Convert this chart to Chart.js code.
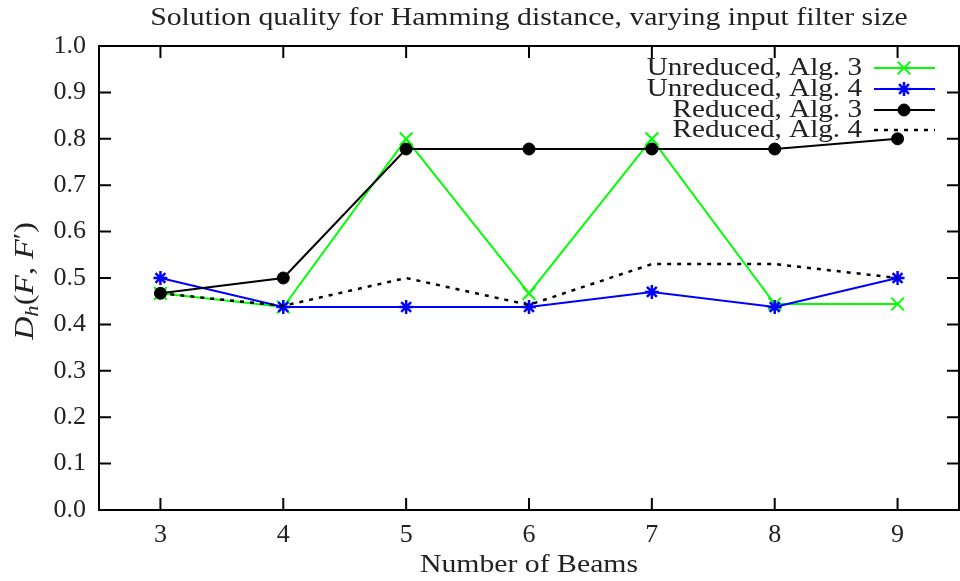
<!DOCTYPE html>
<html>
<head>
<meta charset="utf-8">
<script src="https://cdn.jsdelivr.net/npm/chart.js@4.4.1/dist/chart.umd.min.js"></script>
<style>
  html, body { margin: 0; padding: 0; background: #fff; overflow: hidden; }
  #wrap { width: 960px; height: 581px; }
  canvas { display: block; }
</style>
</head>
<body>
<div id="wrap"><canvas id="quality"></canvas></div>
<script>
// number of beams on the x axis
const beams = ['3', '4', '5', '6', '7', '8', '9'];

// D_h(F, F') per beam count
const unreducedAlg3 = [0.467, 0.4375, 0.8, 0.467, 0.8, 0.444, 0.444];
const unreducedAlg4 = [0.5, 0.4375, 0.4375, 0.4375, 0.47, 0.4375, 0.5];
const reducedAlg3 = [0.467, 0.5, 0.778, 0.778, 0.778, 0.778, 0.8];
const reducedAlg4 = [0.467, 0.44, 0.5, 0.442, 0.53, 0.53, 0.5];

const seriesNames = ['Unreduced, Alg. 3', 'Unreduced, Alg. 4', 'Reduced, Alg. 3', 'Reduced, Alg. 4'];

const FONT = '"Liberation Serif", "DejaVu Serif", serif';
const TEXT = '#222';
const WIDE = 1.19; // the serif face runs narrower than the TeX one, so widen words a bit

// text stretched horizontally around its anchor
function wideText(ctx, str, x, y, align) {
  ctx.save();
  ctx.translate(x, y);
  ctx.scale(WIDE, 1);
  ctx.textAlign = align;
  ctx.fillText(str, 0, 0);
  ctx.restore();
}

// frame, inward ticks, title, axis labels and key, gnuplot style
const gnuplotFrame = {
  id: 'gnuplotFrame',
  afterDatasetsDraw(chart) {
    const { ctx, chartArea: a, scales } = chart;
    const x = scales.x, y = scales.y;
    ctx.save();
    ctx.strokeStyle = '#000';
    ctx.lineWidth = 2;
    ctx.setLineDash([]);
    ctx.strokeRect(a.left, a.top, a.right - a.left, a.bottom - a.top);

    const tl = 12;
    ctx.beginPath();
    x.ticks.forEach((t, i) => {
      const px = x.getPixelForTick(i);
      ctx.moveTo(px, a.bottom); ctx.lineTo(px, a.bottom - tl);
      ctx.moveTo(px, a.top); ctx.lineTo(px, a.top + tl);
    });
    y.ticks.forEach((t, i) => {
      const py = y.getPixelForTick(i);
      ctx.moveTo(a.left, py); ctx.lineTo(a.left + tl, py);
      ctx.moveTo(a.right, py); ctx.lineTo(a.right - tl, py);
    });
    ctx.stroke();

    ctx.fillStyle = TEXT;
    ctx.textBaseline = 'alphabetic';
    const cx = (a.left + a.right) / 2;
    ctx.font = '25px ' + FONT;
    wideText(ctx, 'Solution quality for Hamming distance, varying input filter size', cx, 25, 'center');
    wideText(ctx, 'Number of Beams', cx, 572, 'center');

    // y label: D_h(F, F')
    ctx.save();
    ctx.translate(33, 281);
    ctx.rotate(-Math.PI / 2);
    ctx.scale(WIDE, 1);
    const parts = [
      { t: 'D', f: 'italic 27px ' + FONT, dy: 0 },
      { t: 'h', f: 'italic 19px ' + FONT, dy: 5 },
      { t: '(', f: '27px ' + FONT, dy: 0 },
      { t: 'F', f: 'italic 27px ' + FONT, dy: 0 },
      { t: ', ', f: '27px ' + FONT, dy: 0 },
      { t: 'F', f: 'italic 27px ' + FONT, dy: 0 },
      { t: '\u2032', f: '25px ' + FONT, dy: -2 },
      { t: ')', f: '27px ' + FONT, dy: 0 }
    ];
    let total = 0;
    parts.forEach(p => { ctx.font = p.f; p.w = ctx.measureText(p.t).width; total += p.w; });
    let sx = -total / 2;
    ctx.textAlign = 'left';
    parts.forEach(p => { ctx.font = p.f; ctx.fillText(p.t, sx, p.dy); sx += p.w; });
    ctx.restore();

    // key in the top right corner
    const rows = [68, 89, 110, 130];
    ctx.font = '24.5px ' + FONT;
    chart.data.datasets.forEach((ds, i) => {
      const ry = rows[i];
      ctx.fillStyle = TEXT;
      ctx.textBaseline = 'middle';
      wideText(ctx, seriesNames[i], 862, ry + 1, 'right');
      ctx.strokeStyle = ds.borderColor;
      ctx.lineWidth = ds.borderWidth;
      ctx.setLineDash(ds.borderDash || []);
      ctx.beginPath();
      ctx.moveTo(874, ry); ctx.lineTo(935, ry);
      ctx.stroke();
      ctx.setLineDash([]);
      if (ds.pointRadius > 0) {
        ctx.fillStyle = ds.pointBackgroundColor;
        ctx.strokeStyle = ds.pointBorderColor;
        ctx.lineWidth = ds.pointBorderWidth;
        Chart.helpers.drawPoint(ctx, { pointStyle: ds.pointStyle, radius: ds.pointRadius, rotation: 0, borderWidth: ds.pointBorderWidth }, 904, ry);
      }
    });
    ctx.restore();
  }
};

new Chart(document.getElementById('quality'), {
  type: 'line',
  data: {
    labels: beams,
    datasets: [
      {
        data: unreducedAlg3,
        borderColor: '#00ff00',
        borderWidth: 2,
        pointStyle: 'crossRot',
        pointRadius: 9,
        pointBorderWidth: 2,
        pointBorderColor: '#00ff00',
        pointBackgroundColor: '#00ff00',
        order: 4
      },
      {
        data: unreducedAlg4,
        borderColor: '#0000ff',
        borderWidth: 2,
        pointStyle: 'star',
        pointRadius: 7,
        pointBorderWidth: 2.5,
        pointBorderColor: '#0000ff',
        pointBackgroundColor: '#0000ff',
        order: 3
      },
      {
        data: reducedAlg3,
        borderColor: '#000',
        borderWidth: 2,
        pointStyle: 'circle',
        pointRadius: 6,
        pointBorderWidth: 1,
        pointBorderColor: '#000',
        pointBackgroundColor: '#000',
        order: 2
      },
      {
        data: reducedAlg4,
        borderColor: '#000',
        borderWidth: 2.5,
        borderDash: [4, 6],
        pointRadius: 0,
        order: 1
      }
    ]
  },
  options: {
    responsive: true,
    maintainAspectRatio: false,
    animation: false,
    layout: { autoPadding: false, padding: { top: 46, right: 1, left: 0, bottom: 0 } },
    plugins: {
      legend: { display: false },
      title: { display: false },
      tooltip: { enabled: false }
    },
    elements: { line: { tension: 0, fill: false } },
    scales: {
      x: {
        type: 'category',
        offset: true,
        grid: { display: false, drawTicks: false },
        border: { display: false },
        ticks: { color: TEXT, font: { family: FONT, size: 26 }, padding: 10 },
        afterFit(s) { s.height = 71; }
      },
      y: {
        min: 0,
        max: 1,
        grid: { display: false, drawTicks: false },
        border: { display: false },
        ticks: {
          stepSize: 0.1,
          color: TEXT,
          font: { family: FONT, size: 26 },
          padding: 13,
          callback: v => v.toFixed(1)
        },
        afterFit(s) { s.width = 99; }
      }
    }
  },
  plugins: [gnuplotFrame]
});
</script>
</body>
</html>
